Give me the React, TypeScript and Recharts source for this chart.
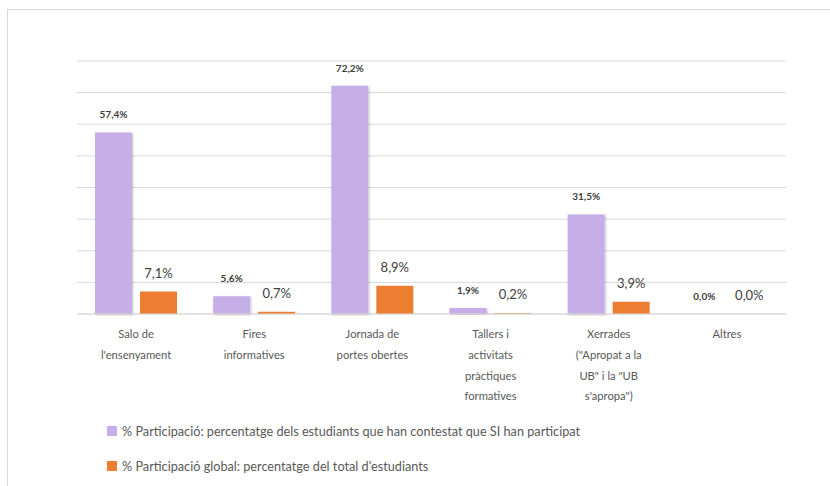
import React from "react";
import {
  BarChart,
  Bar,
  CartesianGrid,
  XAxis,
  YAxis,
  Legend,
  LabelList,
} from "recharts";

// categories (line breaks as shown under each group)
const categories = [
  "Salo de\nl'ensenyament",
  "Fires\ninformatives",
  "Jornada de\nportes obertes",
  "Tallers i\nactivitats\npràctiques\nformatives",
  "Xerrades\n(\"Apropat a la\nUB\" i la \"UB\ns'apropa\")",
  "Altres",
];

const participacio = [57.4, 5.6, 72.2, 1.9, 31.5, 0.0];
const participacioGlobal = [7.1, 0.7, 8.9, 0.2, 3.9, 0.0];

const yTicks = [0, 10, 20, 30, 40, 50, 60, 70, 80];

const seriesNames = [
  "% Participació: percentatge dels estudiants que han contestat que SI han participat",
  "% Participació global: percentatge del total d'estudiants",
];

const data = categories.map((name, i) => ({
  name,
  part: participacio[i],
  glob: participacioGlobal[i],
}));

const PURPLE = "#C6AEE8";
const ORANGE = "#ED7D31";
const COLORS = [PURPLE, ORANGE];
const FONT = "Lato, 'Open Sans', sans-serif";

const fmt = (v: any) => Number(v).toFixed(1).replace(".", ",") + "%";

function CategoryTick(props: any) {
  const { x, y, payload } = props;
  const lines = String(payload.value).split("\n");
  return (
    <g>
      {lines.map((l: string, i: number) => (
        <text
          key={i}
          x={x}
          y={y + 18 + i * 20.8}
          textAnchor="middle"
          fill="#595959"
          fontSize={11.2}
          fontFamily={FONT}
        >
          {l}
        </text>
      ))}
    </g>
  );
}

function LegendBox() {
  return (
    <div>
      {seriesNames.map((name, i) => (
        <div
          key={i}
          style={{
            display: "flex",
            alignItems: "center",
            height: 35,
            fontFamily: FONT,
            fontSize: 12.7,
            color: "#595959",
            whiteSpace: "nowrap",
          }}
        >
          <span
            style={{
              display: "inline-block",
              width: 10,
              height: 10,
              background: COLORS[i],
              marginRight: 5,
            }}
          />
          {name}
        </div>
      ))}
    </div>
  );
}

const makeLabel = (fontSize: number, bold: boolean) => (p: any) => {
  const { x, y, width, height, value } = p;
  // place above the top edge of the bar (bar height may be a hair for 0 values)
  const top = Math.min(Number(y), Number(y) + Number(height));
  return (
    <text
      x={Number(x) + Number(width) / 2}
      y={top - 14}
      textAnchor="middle"
      fill="#404040"
      fontSize={fontSize}
      fontWeight={bold ? "bold" : "normal"}
      fontFamily={FONT}
    >
      {fmt(value)}
    </text>
  );
};

export default function App() {
  return (
    <div style={{ position: "absolute", left: 0, top: 0, width: 830, height: 486, background: "#fff", overflow: "hidden" }}>
      <div
        style={{
          position: "absolute",
          left: 7,
          top: 9,
          width: 900,
          height: 600,
          border: "1px solid #d9d9d9",
        }}
      />
      <div style={{ position: "absolute", left: 0, top: 0 }}>
        <BarChart
          width={830}
          height={486}
          data={data}
          margin={{ top: 61, right: 44, bottom: 72, left: 77 }}
          barCategoryGap={18}
          barGap={8}
        >
          <defs>
            <filter id="barShadow" x="-20%" y="-5%" width="150%" height="120%">
              <feDropShadow dx="1" dy="1" stdDeviation="1" floodColor="#000" floodOpacity="0.25" />
            </filter>
          </defs>
          <CartesianGrid vertical={false} stroke="#d9d9d9" />
          <XAxis
            dataKey="name"
            height={100}
            axisLine={{ stroke: "#d9d9d9" }}
            tickLine={false}
            tickMargin={0}
            interval={0}
            tick={<CategoryTick />}
          />
          <YAxis hide domain={[0, 80]} ticks={yTicks} />
          <Legend
            layout="vertical"
            align="center"
            verticalAlign="middle"
            wrapperStyle={{ top: 413, left: 107, width: 650 }}
            content={<LegendBox />}
          />
          <Bar
            dataKey="part"
            name={seriesNames[0]}
            fill={PURPLE}
            filter="url(#barShadow)"
            minPointSize={0.01}
            isAnimationActive={false}
          >
            <LabelList dataKey="part" content={makeLabel(10, true)} />
          </Bar>
          <Bar
            dataKey="glob"
            name={seriesNames[1]}
            fill={ORANGE}
            minPointSize={0.01}
            isAnimationActive={false}
          >
            <LabelList dataKey="glob" content={makeLabel(13, false)} />
          </Bar>
        </BarChart>
      </div>
    </div>
  );
}
